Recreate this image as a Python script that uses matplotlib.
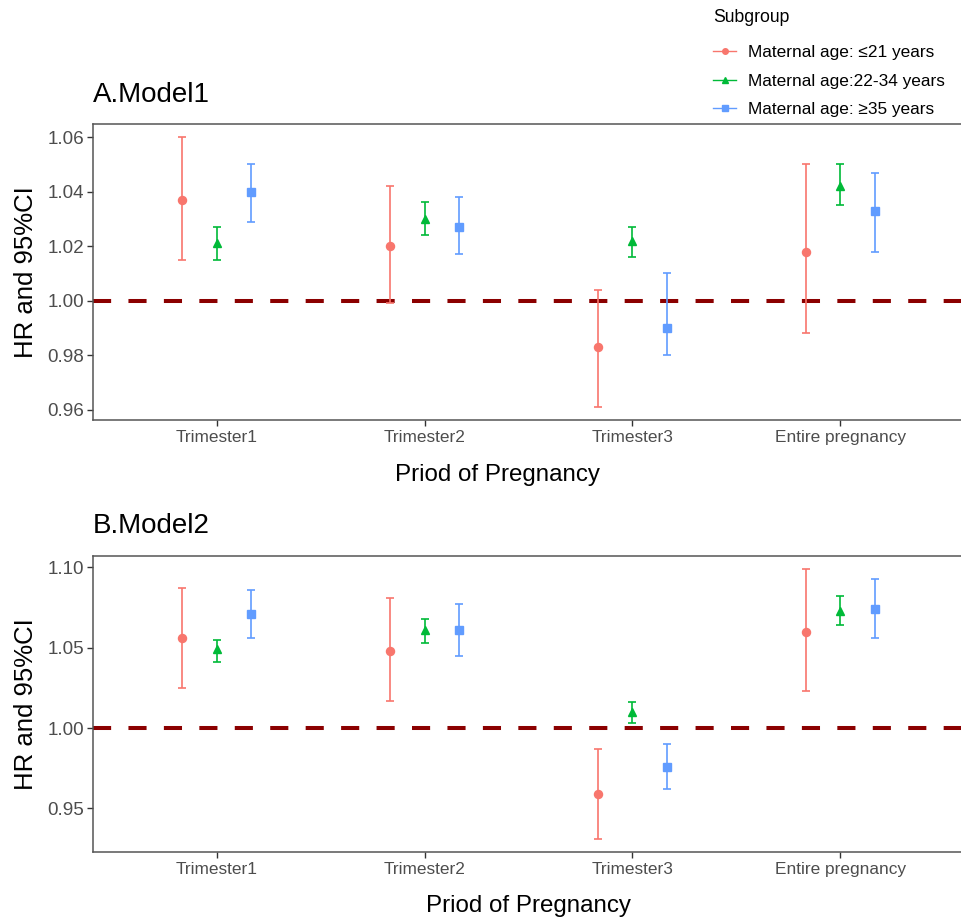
import numpy as np
import matplotlib
matplotlib.use("Agg")
import matplotlib.pyplot as plt
from matplotlib.lines import Line2D

plt.rcParams["font.family"] = ["Liberation Sans", "DejaVu Sans"]

periods = ["Trimester1", "Trimester2", "Trimester3", "Entire pregnancy"]
groups = ["Maternal age: \u226421 years", "Maternal age:22-34 years", "Maternal age: \u226535 years"]
colors = ["#F8766D", "#00BA38", "#619CFF"]
markers = ["o", "^", "s"]

# Model 1: HR, lower and upper 95% CI per subgroup
m1_hr = [[1.037, 1.020, 0.983, 1.018],
         [1.021, 1.030, 1.022, 1.042],
         [1.040, 1.027, 0.990, 1.033]]
m1_lo = [[1.015, 0.999, 0.961, 0.988],
         [1.015, 1.024, 1.016, 1.035],
         [1.029, 1.017, 0.980, 1.018]]
m1_hi = [[1.060, 1.042, 1.004, 1.050],
         [1.027, 1.036, 1.027, 1.050],
         [1.050, 1.038, 1.010, 1.047]]

# Model 2
m2_hr = [[1.056, 1.048, 0.959, 1.060],
         [1.049, 1.061, 1.010, 1.073],
         [1.071, 1.061, 0.976, 1.074]]
m2_lo = [[1.025, 1.017, 0.931, 1.023],
         [1.041, 1.053, 1.003, 1.064],
         [1.056, 1.045, 0.962, 1.056]]
m2_hi = [[1.087, 1.081, 0.987, 1.099],
         [1.055, 1.068, 1.016, 1.082],
         [1.086, 1.077, 0.990, 1.093]]

W, H = 962, 919
fig = plt.figure(figsize=(W / 100, H / 100), dpi=100)
ax1 = fig.add_axes([93 / W, 1 - 420 / H, 872 / W, 296 / H])
ax2 = fig.add_axes([93 / W, 1 - 851.7 / H, 872 / W, 296 / H])

dodge = [-1 / 6, 0, 1 / 6]
x = np.arange(len(periods))


def panel(ax, hr, lo, hi, title, yticks, ylim, xlab_x):
    ax.axhline(1.0, color="#8B0000", lw=2.9, ls=(0, (4.5, 4.3)), zorder=1)
    for g in range(3):
        h = np.array(hr[g]); l = np.array(lo[g]); u = np.array(hi[g])
        ax.errorbar(x + dodge[g], h, yerr=[h - l, u - h], fmt="none",
                    ecolor=colors[g], elinewidth=1.2, capsize=2.6, capthick=1.2, zorder=2)
        ax.plot(x + dodge[g], h, ls="none", marker=markers[g], color=colors[g],
                ms=6.3 if g != 0 else 5.8, zorder=3)
    ax.set_xlim(-0.595, 3.6)
    ax.set_ylim(*ylim)
    ax.set_xticks(x)
    ax.set_xticklabels(periods)
    ax.set_yticks(yticks)
    ax.set_yticklabels([f"{v:.2f}" for v in yticks])
    ax.tick_params(axis="x", labelsize=12.4, labelcolor="#4D4D4D", color="#333333",
                   length=4.5, width=1.0, pad=3)
    ax.tick_params(axis="y", labelsize=13.6, labelcolor="#4D4D4D", color="#333333",
                   length=4.5, width=1.0, pad=2)
    for s in ax.spines.values():
        s.set_color("#555555")
        s.set_linewidth(1.1)
    ax.spines["right"].set_visible(False)  # panel runs off the right edge
    ax.set_xlabel("Priod of Pregnancy", fontsize=17.4)
    ax.xaxis.set_label_coords(xlab_x, -0.147)
    ax.set_ylabel("HR and 95%CI", fontsize=18.5)
    ax.yaxis.set_label_coords(-0.077, 0.5)
    ax.yaxis.label.set_va("center")
    ax.set_title(title, loc="left", fontsize=20, pad=16)


panel(ax1, m1_hr, m1_lo, m1_hi, "A.Model1",
      [0.96, 0.98, 1.00, 1.02, 1.04, 1.06], (0.9562, 1.0648), 0.464)
panel(ax2, m2_hr, m2_lo, m2_hi, "B.Model2",
      [0.95, 1.00, 1.05, 1.10], (0.923, 1.1073), 0.5)

handles = [Line2D([0], [0], color=colors[g], marker=markers[g], lw=1.0, ms=4)
           for g in range(3)]
leg = fig.legend(handles, groups, title="Subgroup", loc="upper left",
                 bbox_to_anchor=(713 / W, 1 - 9 / H), frameon=False,
                 fontsize=12.4, title_fontsize=12.7, alignment="left",
                 handlelength=1.35, handletextpad=0.7, labelspacing=0.78,
                 borderpad=0, borderaxespad=0)
leg._legend_box.sep = 14  # extra gap under the legend title

fig.savefig("out.png", dpi=100)
